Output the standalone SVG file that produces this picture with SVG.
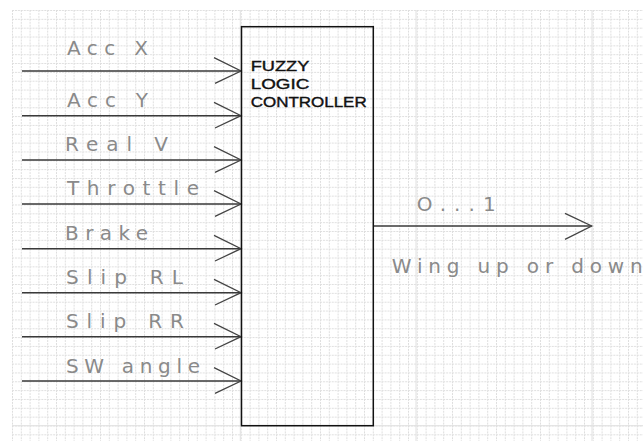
<svg xmlns="http://www.w3.org/2000/svg" width="643" height="441" viewBox="0 0 643 441">
<defs>
<pattern id="grid" patternUnits="userSpaceOnUse" x="12" y="10" width="8.8" height="8.84">
<path d="M0 0.5H8.8M0.5 0V8.84" stroke="#dedede" stroke-width="1" stroke-dasharray="2 1" fill="none"/>
</pattern>
<style>
.lbl{font-family:"DejaVu Sans","Liberation Sans",sans-serif;font-size:20px;fill:#8a8a8a;}
.box{font-family:"Liberation Sans",Arial,sans-serif;font-size:15px;fill:#111;stroke:#111;stroke-width:0.4;}
.wire{stroke:#3a3a3a;stroke-width:1.5;fill:none;}
.head{stroke:#444;stroke-width:1.3;fill:none;}
.major{stroke:#e0e0e0;stroke-width:1;}
</style>
</defs>
<rect width="643" height="441" fill="#fff"/>
<rect x="12" y="10" width="631" height="431" fill="url(#grid)"/>
<g id="major-grid">
<line class="major" x1="240.3" y1="10" x2="240.3" y2="441"/>
<line class="major" x1="416" y1="10" x2="416" y2="441"/>
<line class="major" x1="592" y1="10" x2="592" y2="441"/>
<line class="major" x1="12" y1="425.7" x2="643" y2="425.7"/>
</g>
<g id="connectors">
<path class="wire" d="M22 71H241M22 115.7H241M22 160H241M22 204H241M22 248.7H241M22 292.7H241M22 336.7H241M22 381H241"/>
<path class="head" d="M214 57.7L241 71L215 83.3M214 102.4L241 115.7L215 128M214 146.7L241 160L215 172.3M214 190.7L241 204L215 216.3M214 235.4L241 248.7L215 261M214 279.4L241 292.7L215 305M214 323.4L241 336.7L215 349M214 367.7L241 381L215 393.3"/>
<path class="wire" d="M373.3 226H591.7"/>
<path class="head" d="M565 213.3L591.7 226L565 239.3"/>
</g>
<g id="labels">
<text class="lbl" x="67" y="55" textLength="81" lengthAdjust="spacing">Acc X</text>
<text class="lbl" x="67" y="107" textLength="81" lengthAdjust="spacing">Acc Y</text>
<text class="lbl" x="65" y="151" textLength="103" lengthAdjust="spacing">Real V</text>
<text class="lbl" x="67" y="195" textLength="132" lengthAdjust="spacing">Throttle</text>
<text class="lbl" x="65" y="240" textLength="83" lengthAdjust="spacing">Brake</text>
<text class="lbl" x="66" y="284" textLength="117" lengthAdjust="spacing">Slip RL</text>
<text class="lbl" x="66" y="328" textLength="118" lengthAdjust="spacing">Slip RR</text>
<text class="lbl" x="66" y="373" textLength="134" lengthAdjust="spacing">SW angle</text>
</g>
<g id="controller">
<rect x="241.5" y="26.7" width="131.8" height="399" fill="none" stroke="#111" stroke-width="1.5"/>
<text class="box" x="250.7" y="70.7" textLength="58.6" lengthAdjust="spacingAndGlyphs">FUZZY</text>
<text class="box" x="250.7" y="89.3" textLength="58.6" lengthAdjust="spacingAndGlyphs">LOGIC</text>
<text class="box" x="250.7" y="107.3" textLength="116" lengthAdjust="spacingAndGlyphs">CONTROLLER</text>
</g>
<g id="output">
<text class="lbl" x="416.7" y="210.7" textLength="79" lengthAdjust="spacing">O...1</text>
<text class="lbl" x="391.7" y="272.7" textLength="251" lengthAdjust="spacing">Wing up or down</text>
</g>
</svg>
